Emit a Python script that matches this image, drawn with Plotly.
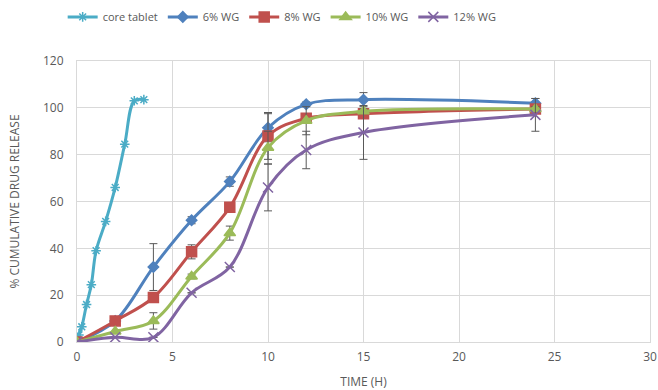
import plotly.graph_objects as go

core_t = [0, 0.1, 0.25, 0.5, 0.75, 1, 1.5, 2, 2.5, 3, 3.5]
core_v = [0, 3, 6.5, 16, 24.5, 39, 51.5, 66, 84.5, 103, 103.5]

t = [0, 2, 4, 6, 8, 10, 12, 15, 24]
wg6 = [0, 9, 32, 52, 68.5, 91.5, 101.5, 103.5, 102]
wg6_err = [0, 0, 10, 1.5, 2, 6, 1, 3, 2]
wg8 = [0, 9, 19, 38.5, 57.5, 88, 95.5, 97.5, 99.5]
wg8_err = [0, 0, 1, 3, 0, 10, 1.5, 1, 1]
wg10 = [0, 4.5, 9, 28, 46.5, 83, 94.5, 98.5, 99.5]
wg10_err = [0, 0, 3.5, 1, 3, 7, 6, 1, 1]
wg12 = [0, 2, 2, 21, 32, 66, 82, 89.5, 97]
wg12_err = [0, 0, 0, 0, 0, 10, 8, 11.5, 7]

fig = go.Figure()
fig.add_trace(go.Scatter(x=core_t, y=core_v, name="core tablet", mode="lines+markers",
                         line=dict(color="#4bacc6", width=3, shape="spline"),
                         marker=dict(symbol="asterisk-open", size=8, line=dict(color="#4bacc6", width=1.5))))
series = [("6% WG", wg6, wg6_err, "#4f81bd", "diamond", 8),
          ("8% WG", wg8, wg8_err, "#c0504d", "square", 10),
          ("10% WG", wg10, wg10_err, "#9bbb59", "triangle-up", 10),
          ("12% WG", wg12, wg12_err, "#8064a2", "x-thin-open", 10)]
for name, v, e, c, sym, sz in series:
    fig.add_trace(go.Scatter(x=t, y=v, name=name, mode="lines+markers",
                             line=dict(color=c, width=3, shape="spline"),
                             marker=dict(symbol=sym, size=sz, color=c, line=dict(color=c, width=1.5)),
                             error_y=dict(type="data", array=e, visible=True, color="#595959",
                                          thickness=1, width=4)))

fig.update_layout(
    width=658, height=390,
    margin=dict(l=77, r=8, t=61, b=48, autoexpand=False),
    paper_bgcolor="white", plot_bgcolor="white",
    font=dict(family="Open Sans, sans-serif", size=12, color="#595959"),
    showlegend=True,
    legend=dict(orientation="h", x=-0.025, xanchor="left", y=1.157, yanchor="middle",
                font=dict(size=11, color="#595959"), itemwidth=30, tracegroupgap=0),
    xaxis=dict(range=[0, 30], dtick=5, showgrid=True, gridcolor="#d9d9d9", gridwidth=1,
               zeroline=False, showline=True, linecolor="#d9d9d9", ticks="", mirror=True,
               title=dict(text="TIME (H)", font=dict(size=12, color="#595959"), standoff=14),
               tickfont=dict(size=12, color="#595959"), ticklabelstandoff=4),
    yaxis=dict(range=[0, 120], dtick=20, showgrid=True, gridcolor="#d9d9d9", gridwidth=1,
               zeroline=False, showline=True, linecolor="#d9d9d9", mirror=True, ticks="",
               title=dict(text="% CUMULATIVE DRUG RELEASE", font=dict(size=12, color="#595959"), standoff=20),
               tickfont=dict(size=12, color="#595959"), ticklabelstandoff=10),
)
fig.write_html("out.html")
